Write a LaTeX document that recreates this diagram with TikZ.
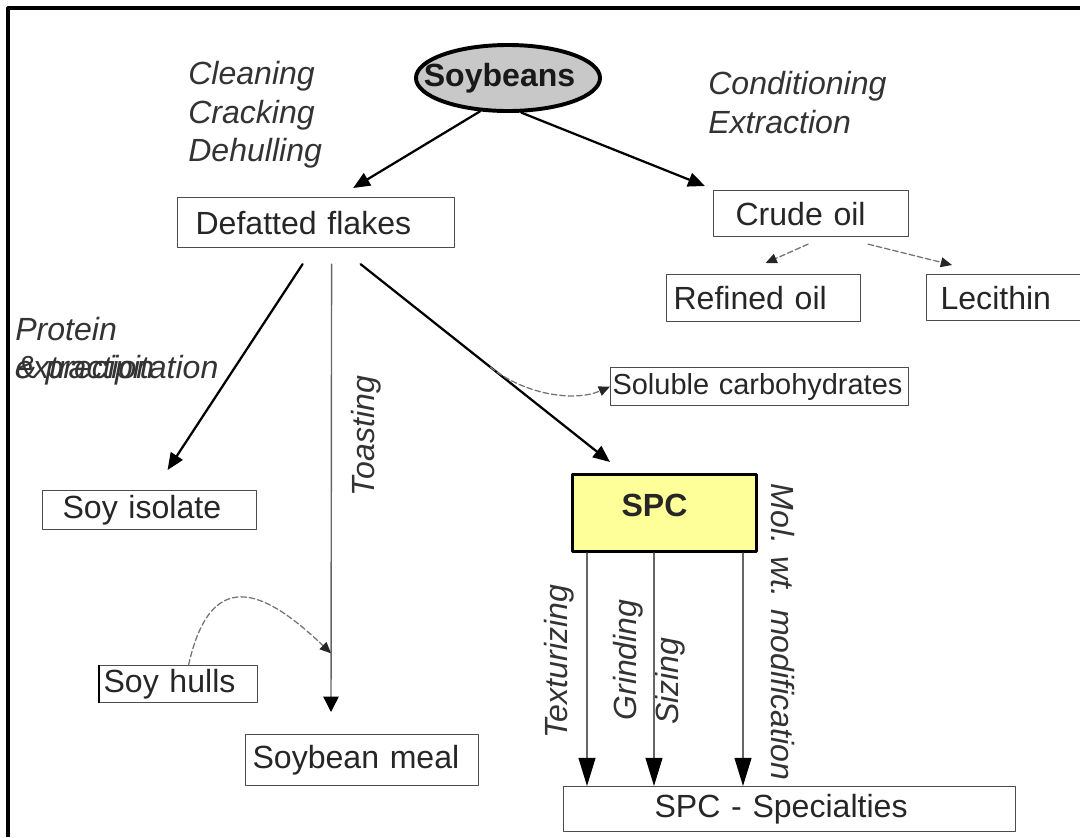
\documentclass[tikz,border=0pt]{standalone}
\usepackage{fontspec}
\setmainfont{Liberation Sans}
\usepackage{xcolor}
\usetikzlibrary{arrows.meta,calc,positioning,shapes.geometric}
\newcommand{\lblsize}{\fontsize{22.8pt}{27.4pt}\selectfont}
\newcommand{\smlsize}{\fontsize{20.6pt}{24pt}\selectfont}
\definecolor{spcyellow}{HTML}{FFFF99}
\definecolor{beangray}{HTML}{C8C8C8}
\tikzset{
  box/.style={rectangle, draw=black!70, line width=0.8pt, inner ysep=0pt, anchor=north west, align=left, font=\lblsize, text=black!85},
  proclbl/.style={font=\lblsize\itshape, inner sep=0pt, text=black!80, align=left},
  mainarr/.style={line width=1.6pt, -{Triangle[length=12pt,width=10pt]}},
  thinarr/.style={draw=black!60, line width=1pt, -{Triangle[length=11pt,width=11pt,color=black]}},
  vArr/.style={draw=black!60, line width=1pt, -{Triangle[length=20pt,width=12pt,color=black]}},
  dasharr/.style={draw=black!55, line width=0.9pt, dash pattern=on 4pt off 2pt, -{Triangle[length=8pt,width=7pt,color=black!85]}},
  every picture/.style={line cap=round, line join=round}
}

\begin{document}
\begin{tikzpicture}[x=0.025cm, y=-0.025cm]
    \useasboundingbox (0,0) rectangle (1080,837);
    \draw[line width=2.2pt, line cap=butt] (8,837) -- (8,8) -- (1080,8);

    % raw beans and process steps
    \node[ellipse, draw, line width=2.8pt, fill=beangray, minimum width=4.6cm, minimum height=1.65cm, inner sep=0pt,
      label={[font=\lblsize\bfseries, text=black!90, xshift=-6pt]center:Soybeans}] (soy) at (508,78) {};
    \node[proclbl, anchor=north west] (prep) at (188,61) {Cleaning\\Cracking\\Dehulling};
    \node[proclbl, anchor=north west] (oilproc) at (708,71) {Conditioning\\Extraction};

    % products
    \node[box, minimum height=1.25cm, text width=6.025cm, inner xsep=0.45cm] (flakes) at (177,197) {Defatted flakes};
    \node[box, minimum height=1.15cm, text width=3.775cm, inner xsep=0.55cm] (crude) at (713,190) {Crude oil};
    \node[box, minimum height=1.175cm, text width=4.5cm, inner xsep=0.175cm] (refined) at (666,274) {Refined oil};
    \node[box, minimum height=1.15cm, text width=3.4cm, inner xsep=0.35cm] (lecithin) at (926,274) {Lecithin};
    \node[box, minimum height=0.95cm, text width=7.35cm, inner xsep=0.05cm, font=\smlsize] (soluble) at (610,367) {Soluble carbohydrates};
    \node[box, minimum height=0.975cm, text width=4.35cm, inner xsep=0.5cm] (isolate) at (42,490) {Soy isolate};
    \node[box, minimum height=0.925cm, text width=3.75cm, inner xsep=0.1cm] (hulls) at (99,665) {Soy hulls};
    \node[box, minimum height=1.275cm, text width=5.475cm, inner xsep=0.175cm] (meal) at (245,734) {Soybean meal};
    \node[box, draw=black, line width=2.2pt, fill=spcyellow, minimum height=1.925cm, text width=2.15cm, text depth=0.4cm, inner xsep=1.225cm, font=\lblsize\bfseries] (spc) at (571,473) {SPC};
    \node[box, minimum height=1.125cm, text width=6.75cm, inner xsep=2.275cm] (spec) at (563,786) {SPC - Specialties};
    \draw[line width=1.8pt, line cap=butt] (hulls.north west) -- (hulls.south west);

    \node[proclbl, anchor=base west] (prot) at (15,340) {Protein};
    \node[proclbl, anchor=base west] (extr) at (15,378) {extraction};
    \node[proclbl, anchor=base west] (precip) at (15,378) {\& precipitation};
    \node[proclbl, rotate=90] (toast) at (366,436) {Toasting};
    \node[proclbl, rotate=90] (textur) at (559,662) {Texturizing};
    \node[proclbl, rotate=90] (grind) at (628,660) {Grinding};
    \node[proclbl, rotate=90] (sizing) at (670,681) {Sizing};
    \node[proclbl, rotate=-90] (molwt) at (783,632) {Mol. wt. modification};

    % flows
    \draw[mainarr] (soy.230) -- ($(flakes.north)+(37,-9)$);
    \draw[mainarr] (soy.291) -- ($(crude.north west)+(-8,-4)$);
    \draw[dasharr] ($(crude.south)+(-3,7)$) -- ($(refined.north)+(2,-11)$);
    \draw[dasharr] ($(crude.south)+(57,7)$) -- ($(lecithin.north west)+(26,-9)$);
    \draw[mainarr] ($(flakes.south)+(-13.5,16)$) -- ($(isolate.north)+(18,-20)$);
    \draw[thinarr] ($(flakes.south)+(15.5,16)$) -- coordinate[pos=0.869] (hullsin) ($(meal.north west)+(86,-22)$);
    \draw[mainarr] ($(flakes.south)+(44.5,16)$) -- coordinate[pos=0.52] (carbout) ($(spc.north west)+(39,-11)$);
    \draw[dasharr] (carbout) .. controls (525,395) and (575,402) .. (soluble.west);
    \draw[dasharr] ($(hulls.north)+(10,0)$) .. controls (212,560) and (270,595) .. (hullsin);
    \foreach \dx in {16,83,172}
      \draw[vArr] ($(spc.south west)+(\dx,0)$) -- ($(spec.north west)+(\dx+8,0)$);
\end{tikzpicture}
\end{document}
